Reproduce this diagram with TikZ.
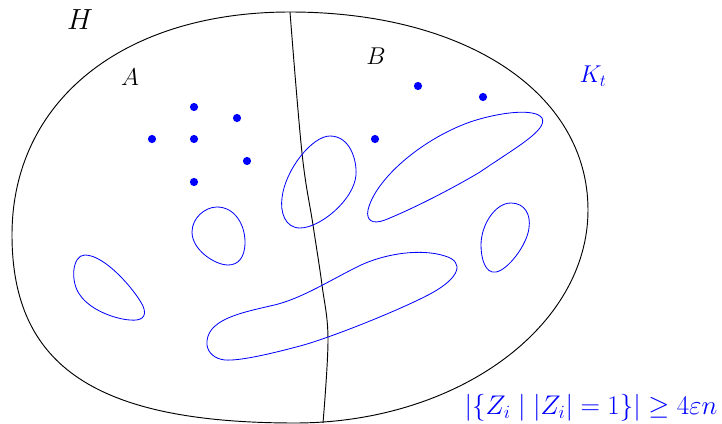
\documentclass[tikz,border=0pt]{standalone}
\usepackage{amsmath}
\usepackage{amssymb}
\usetikzlibrary{positioning}

\begin{document}
\begin{tikzpicture}[x=0.03cm, y=-0.03cm,
    region/.style={blue, line width=0.7pt},
    vertex/.style={circle, fill=blue, inner sep=0pt, minimum size=7pt},
    setlabel/.style={font=\huge}]

\useasboundingbox (0,0) rectangle (722,424);

% die Menge H
\draw[line width=0.8pt] (290,12) .. controls (466,12) and (588,93) .. (588,210)
    .. controls (588,327) and (457,423) .. (295,423)
    .. controls (97,423) and (12,367) .. (12,235)
    .. controls (12,101) and (123,12) .. cycle;

% Trennlinie zwischen A und B
\draw[line width=0.8pt] plot[smooth, tension=0.6] coordinates {
    (290,12) (302,153) (313,225) (322,285) (328,339) (323,423)};

% Beschriftungen
\node[font=\Huge] (labelH) at (80,20) {$H$};
\node[setlabel] (labelA) at (130,77) {$A$};
\node[setlabel] (labelB) at (376,56) {$B$};
\node[setlabel, blue] (labelK) at (593,76) {$K_t$};
\node[blue, font=\huge, scale=1.11, transform shape] (bound) at (591,408)
    {$|\{Z_i \mid |Z_i| = 1\}| \geq 4\varepsilon n$};

% einzelne Knoten
\foreach \px/\py [count=\i] in {194/107, 237/118, 152/139, 194/139, 247/161,
    194/182, 375/139, 418/86, 483/97}
    \node[vertex] (v\i) at (\px,\py) {};

% Komponenten von K_t
\draw[region] (330,136) .. controls (350,136) and (357,160) .. (356,175)
    .. controls (354,200) and (320,228) .. (300,228)
    .. controls (285,228) and (280,212) .. (282,198)
    .. controls (285,170) and (312,136) .. cycle;
\draw[region] (217,207) .. controls (235,207) and (245,225) .. (245,242)
    .. controls (245,258) and (238,265) .. (228,265)
    .. controls (215,265) and (192,250) .. (192,232)
    .. controls (192,218) and (205,207) .. cycle;
\draw[region] (85,255) .. controls (105,255) and (135,290) .. (143,306)
    .. controls (148,318) and (140,321) .. (130,320)
    .. controls (115,319) and (90,310) .. (80,295)
    .. controls (70,282) and (72,255) .. cycle;
\draw[region] (207,345) .. controls (205,320) and (240,313) .. (270,306)
    .. controls (300,300) and (330,280) .. (361,265)
    .. controls (385,254) and (420,248) .. (445,256)
    .. controls (465,262) and (460,278) .. (430,294)
    .. controls (400,310) and (330,338) .. (300,346)
    .. controls (270,354) and (240,361) .. (225,360)
    .. controls (215,359) and (208,353) .. cycle;
\draw[region] (368,210) .. controls (375,180) and (420,140) .. (470,122)
    .. controls (500,112) and (535,108) .. (542,118)
    .. controls (548,130) and (515,148) .. (480,172)
    .. controls (450,190) and (410,210) .. (385,220)
    .. controls (372,225) and (366,220) .. cycle;
\draw[region] (511,203) .. controls (525,203) and (531,215) .. (529,228)
    .. controls (527,245) and (508,270) .. (496,272)
    .. controls (485,274) and (481,258) .. (481,245)
    .. controls (481,225) and (495,203) .. cycle;

\end{tikzpicture}
\end{document}
